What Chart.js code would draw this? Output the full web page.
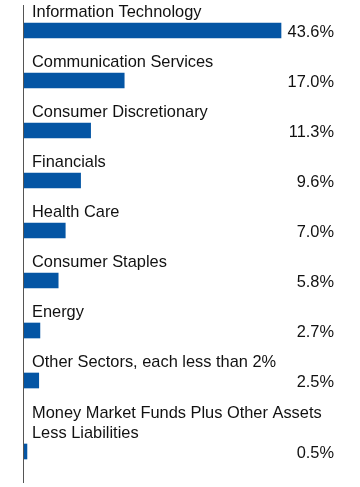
<!DOCTYPE html>
<html>
<head>
<meta charset="utf-8">
<script src="https://cdn.jsdelivr.net/npm/chart.js@4"></script>
<style>
  html, body { margin: 0; padding: 0; background: #fff; }
  #wrap { width: 360px; height: 487px; position: relative; }
</style>
</head>
<body>
<div id="wrap"><canvas id="myChart"></canvas></div>
<script>
// sector labels (split into lines where the label wraps)
const sectors = [
  ['Information Technology'],
  ['Communication Services'],
  ['Consumer Discretionary'],
  ['Financials'],
  ['Health Care'],
  ['Consumer Staples'],
  ['Energy'],
  ['Other Sectors, each less than 2%'],
  ['Money Market Funds Plus Other Assets', 'Less Liabilities']
];
const weights = [43.6, 17.0, 11.3, 9.6, 7.0, 5.8, 2.7, 2.5, 0.5];

const rowHeight = 50;   // one-line label + bar
const lineHeight = 21;  // extra room for each wrapped label line
const firstRow = 30.5;

// row centres follow from how many lines each label needs
var rowY = [];
var pos = firstRow;
sectors.forEach(function (lines, i) {
  pos += (lines.length - 1) * lineHeight;
  rowY.push(pos);
  pos += rowHeight;
});

const labelPlugin = {
  id: 'rowLabels',
  afterDatasetsDraw(chart) {
    const ctx = chart.ctx;
    const area = chart.chartArea;
    const meta = chart.getDatasetMeta(0);
    ctx.save();
    // vertical axis line
    ctx.strokeStyle = '#555';
    ctx.lineWidth = 1;
    ctx.beginPath();
    ctx.moveTo(area.left - 0.5, 5);
    ctx.lineTo(area.left - 0.5, 483);
    ctx.stroke();

    ctx.font = '16.4px "Liberation Sans", Arial, sans-serif';
    ctx.fillStyle = '#111';
    meta.data.forEach(function (bar, i) {
      const top = bar.y - bar.height / 2;
      const bottom = bar.y + bar.height / 2;
      const lines = sectors[i];
      ctx.textAlign = 'left';
      ctx.textBaseline = 'alphabetic';
      lines.forEach(function (t, k) {
        ctx.fillText(t, area.left + 8, top - 6 - (lines.length - 1 - k) * 20);
      });
      ctx.textAlign = 'right';
      ctx.fillText(weights[i].toFixed(1) + '%', 334, bottom - 1);
    });
    ctx.restore();
  }
};

const config = {
  type: 'bar',
  data: {
    datasets: [{
      data: weights.map(function (v, i) { return { x: v, y: rowY[i] }; }),
      backgroundColor: '#0455a4',
      borderWidth: 0,
      barThickness: 15
    }]
  },
  options: {
    indexAxis: 'y',
    responsive: true,
    maintainAspectRatio: false,
    animation: false,
    layout: { padding: { left: 24, right: 0, top: 0, bottom: 0 } },
    scales: {
      x: { type: 'linear', min: 0, max: 57, display: false },
      y: { type: 'linear', min: 0, max: 487, reverse: true, offset: false, display: false }
    },
    plugins: {
      legend: { display: false },
      tooltip: { enabled: false }
    }
  },
  plugins: [labelPlugin]
};

var ctx = document.getElementById('myChart').getContext('2d');
var chart = new Chart(ctx, config);
</script>
</body>
</html>
